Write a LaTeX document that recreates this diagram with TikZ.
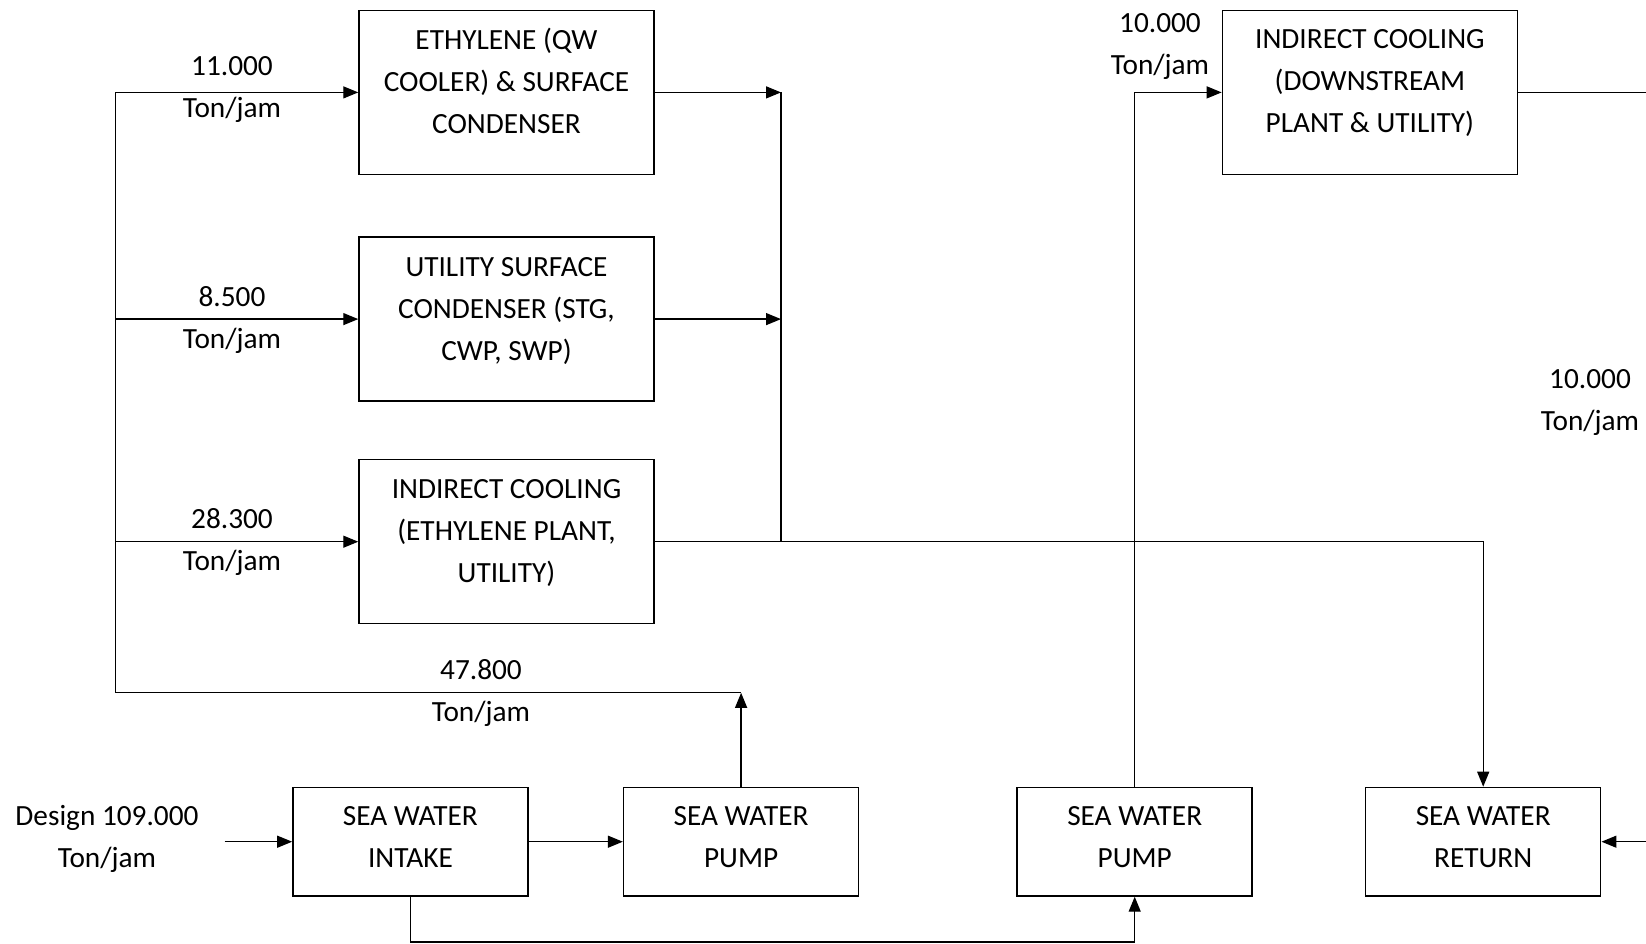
\documentclass[tikz,border=0pt]{standalone}
\usepackage{fontspec}
\setmainfont{Carlito}
\usetikzlibrary{arrows.meta}
\begin{document}
\begin{tikzpicture}[x=1pt,y=-1pt,
  unit/.style={draw, line width=1.5pt, inner sep=0pt},
  upper/.style={unit, minimum width=295pt, minimum height=164pt},
  lower/.style={unit, minimum width=235pt, minimum height=108.5pt},
  txt/.style={align=center, inner sep=0pt, font=\fontsize{29.3}{42}\selectfont},
  pipe/.style={line width=1.3pt},
  flow/.style={pipe, -{Triangle[length=15pt,width=12pt]}}]
\useasboundingbox (0,0) rectangle (1646,944);

% process units
\node[upper] (ethy) at (506.5,92.4) {};
\node[upper] (util) at (506.5,319.1) {};
\node[upper] (indE) at (506.5,541.7) {};
\node[upper] (indD) at (1369.9,92.4) {};
\node[lower] (intake) at (410.4,841.7) {};
\node[lower] (pumpA) at (741.1,841.7) {};
\node[lower] (pumpB) at (1134.7,841.7) {};
\node[lower] (ret) at (1483.2,841.7) {};

% unit captions
\node[txt] (tEthy) at (506.5,80.8) {ETHYLENE (QW\\COOLER) \& SURFACE\\CONDENSER};
\node[txt] (tUtil) at (506.5,310.8) {UTILITY SURFACE\\CONDENSER (STG,\\CWP, SWP)};
\node[txt] (tIndE) at (506.5,533.2) {INDIRECT COOLING\\(ETHYLENE PLANT,\\UTILITY)};
\node[txt] (tIndD) at (1369.9,83.5) {INDIRECT COOLING\\(DOWNSTREAM\\PLANT \& UTILITY)};
\node[txt] (tIntake) at (410.4,837) {SEA WATER\\INTAKE};
\node[txt] (tPumpA) at (741.1,837) {SEA WATER\\PUMP};
\node[txt] (tPumpB) at (1134.7,837) {SEA WATER\\PUMP};
\node[txt] (tRet) at (1483.2,837) {SEA WATER\\RETURN};

% flow rates
\node[txt] (q1) at (232,89.8) {11.000\\Ton/jam};
\node[txt] (q2) at (232,320.5) {8.500\\Ton/jam};
\node[txt] (q3) at (232,542) {28.300\\Ton/jam};
\node[txt] (q4) at (481,692.5) {47.800\\Ton/jam};
\node[txt] (q5) at (1160,47) {10.000\\Ton/jam};
\node[txt] (q6) at (1590,403) {10.000\\Ton/jam};
\node[txt] (qin) at (107,838.8) {Design 109.000\\Ton/jam};

% supply header
\coordinate (hTop) at (115.5,92.4);
\coordinate (hBot) at (115.5,692.8);
\draw[pipe] (hTop) -- (hBot) -- (pumpA.north |- hBot);
\draw[flow] (pumpA.north) -- (pumpA.north |- hBot);
\draw[flow] (hTop) -- (ethy.west);
\draw[flow] (hTop |- util) -- (util.west);
\draw[flow] (hTop |- indE) -- (indE.west);

% return header
\coordinate (cTop) at (781,92.4);
\draw[flow] (ethy.east) -- (cTop);
\draw[flow] (util.east) -- (cTop |- util);
\draw[pipe] (cTop) -- (cTop |- indE);
\draw[flow] (indE.east) -- (ret.north |- indE) -- (ret.north);

% downstream loop
\draw[flow] (pumpB.north) -- (pumpB.north |- indD) -- (indD.west);
\coordinate (dOut) at (1646,92.4);
\draw[pipe] (indD.east) -- (dOut);
\coordinate (rIn) at (1646,841.7);
\draw[flow] (rIn) -- (ret.east);

% intake side
\coordinate (sea) at (224.6,841.7);
\draw[flow] (sea) -- (intake.west);
\draw[flow] (intake.east) -- (pumpA.west);
\coordinate (bot) at (410.4,942);
\draw[flow] (intake.south) -- (bot) -- (pumpB.south |- bot) -- (pumpB.south);
\end{tikzpicture}
\end{document}
